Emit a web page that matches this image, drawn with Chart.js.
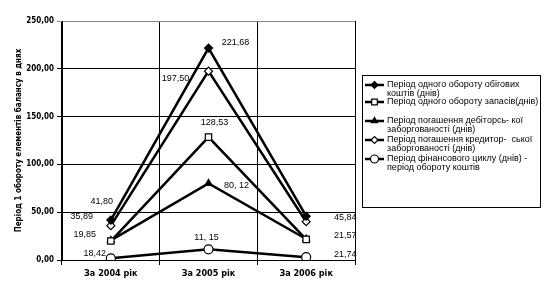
<!DOCTYPE html>
<html><head><meta charset="utf-8">
<script src="https://cdn.jsdelivr.net/npm/chart.js@4"></script>
<style>html,body{margin:0;padding:0;background:#fff}#w{width:546px;height:296px}</style>
</head><body><div id="w"><canvas id="c" width="546" height="296"></canvas></div>
<script>
const categories = ['За 2004 рік', 'За 2005 рік', 'За 2006 рік'];
const yTicks = [0, 50, 100, 150, 200, 250];
const yTitle = 'Період 1 обороту елементів балансу в днях';

const sWorking = [41.80, 221.68, 45.84];
const sInventory = [19.85, 128.53, 21.57];
const sReceivable = [20.5, 80.12, 22.0];
const sPayable = [35.89, 197.50, 40.0];
const sCycle = [1.8, 11.15, 3.0];

const seriesNames = [
  ['Період одного обороту обігових', 'коштів (днів)'],
  ['Період одного обороту запасів(днів)'],
  ['Період погашення дебіторсь- кої', 'заборгованості (днів)'],
  ['Період погашення кредитор-  ської', 'заборгованості (днів)'],
  ['Період фінансового циклу (днів) -', 'період обороту коштів']
];

// data label texts: [datasetIndex, pointIndex, text]
const pointLabels = [
  [0, 0, '41,80'], [3, 0, '35,89'], [1, 0, '19,85'], [4, 0, '18,42'],
  [0, 1, '221,68'], [3, 1, '197,50'], [1, 1, '128,53'], [2, 1, '80, 12'], [4, 1, '11, 15'],
  [0, 2, '45,84'], [1, 2, '21,57'], [4, 2, '21,74']
];
const labelOffsets = {
  '0,0': [-9, -19], '3,0': [-29, -9], '1,0': [-26, -7], '4,0': [-16, -5],
  '0,1': [27, -6], '3,1': [-33, 7], '1,1': [6, -15], '2,1': [28, 2], '4,1': [-2, -12],
  '0,2': [39, 1], '1,2': [39, -4], '4,2': [39, -3]
};

const styles = [
  {pointStyle: 'rectRot', radius: 4, bg: '#000'},
  {pointStyle: 'rect', radius: 4.5, bg: '#fff'},
  {pointStyle: 'triangle', radius: 4, bg: '#000'},
  {pointStyle: 'rectRot', radius: 4, bg: '#fff'},
  {pointStyle: 'circle', radius: 4.5, bg: '#fff'}
];
const seriesData = [sWorking, sInventory, sReceivable, sPayable, sCycle];

const datasets = seriesData.map((d, i) => ({
  label: seriesNames[i].join(' '),
  data: d,
  borderColor: '#000',
  borderWidth: 2.5,
  pointStyle: styles[i].pointStyle,
  pointRadius: styles[i].radius,
  pointBackgroundColor: styles[i].bg,
  pointBorderColor: '#000',
  pointBorderWidth: 1.2,
  tension: 0,
  order: i
}));

const labelPlugin = {
  id: 'labels',
  afterDatasetsDraw(chart) {
    const ctx = chart.ctx;
    ctx.save();
    ctx.font = '9px "Liberation Sans", Arial, sans-serif';
    ctx.fillStyle = '#000';
    ctx.textAlign = 'center';
    ctx.textBaseline = 'middle';
    pointLabels.forEach(([di, pi, t]) => {
      const p = chart.getDatasetMeta(di).data[pi];
      const o = labelOffsets[di + ',' + pi];
      ctx.fillText(t, p.x + o[0], p.y + o[1]);
    });
    // legend
    const bx = 362, by = 75, bw = 178, bh = 132;
    ctx.strokeStyle = '#000';
    ctx.lineWidth = 1;
    ctx.strokeRect(bx + 0.5, by + 0.5, bw, bh);
    const rows = [85, 102, 121, 140, 159];
    ctx.textAlign = 'left';
    ctx.font = '9px "Liberation Sans", Arial, sans-serif';
    seriesNames.forEach((lines, i) => {
      const y = rows[i];
      ctx.beginPath();
      ctx.lineWidth = 2.5;
      ctx.moveTo(365, y); ctx.lineTo(384, y); ctx.stroke();
      ctx.lineWidth = 1.2;
      ctx.fillStyle = styles[i].bg;
      Chart.helpers.drawPoint(ctx, {pointStyle: styles[i].pointStyle, radius: styles[i].radius - 0.5, borderWidth: 1.2}, 374.5, y);
      ctx.fillStyle = '#000';
      lines.forEach((ln, k) => ctx.fillText(ln, 387, y + k * 9));
    });
    ctx.restore();
  }
};

new Chart(document.getElementById('c'), {
  type: 'line',
  data: {labels: categories, datasets},
  plugins: [labelPlugin],
  options: {
    responsive: false,
    animation: false,
    layout: {padding: {top: 21, right: 191, left: 14, bottom: 0}},
    plugins: {legend: {display: false}, tooltip: {enabled: false}},
    scales: {
      x: {
        offset: true,
        grid: {offset: true, color: c => c.index === 3 ? '#888' : '#000', lineWidth: 1, tickLength: 5},
        border: {color: '#000'},
        ticks: {color: '#000', font: {family: '"Liberation Sans Narrow", "DejaVu Sans Condensed", Arial', weight: 'bold', size: 9}, padding: 3},
        afterFit: s => { s.height = 36; }
      },
      y: {
        min: 0, max: 250,
        afterBuildTicks: s => { s.ticks = yTicks.map(v => ({value: v})); },
        grid: {color: c => c.tick && c.tick.value === 250 ? '#888' : '#000', lineWidth: 1, tickLength: 5},
        border: {color: '#000'},
        ticks: {color: '#000', padding: 3, font: {family: '"Liberation Sans Narrow", "DejaVu Sans Condensed", Arial', weight: 'bold', size: 8},
          callback: v => v.toFixed(2).replace('.', ',')},
        title: {display: true, text: yTitle, color: '#000', padding: {top: 0, bottom: 4},
          font: {family: '"Liberation Sans Narrow", "DejaVu Sans Condensed", Arial', weight: 'bold', size: 8}},
        afterFit: s => { s.width = 48; }
      }
    }
  }
});
</script>
</body></html>
